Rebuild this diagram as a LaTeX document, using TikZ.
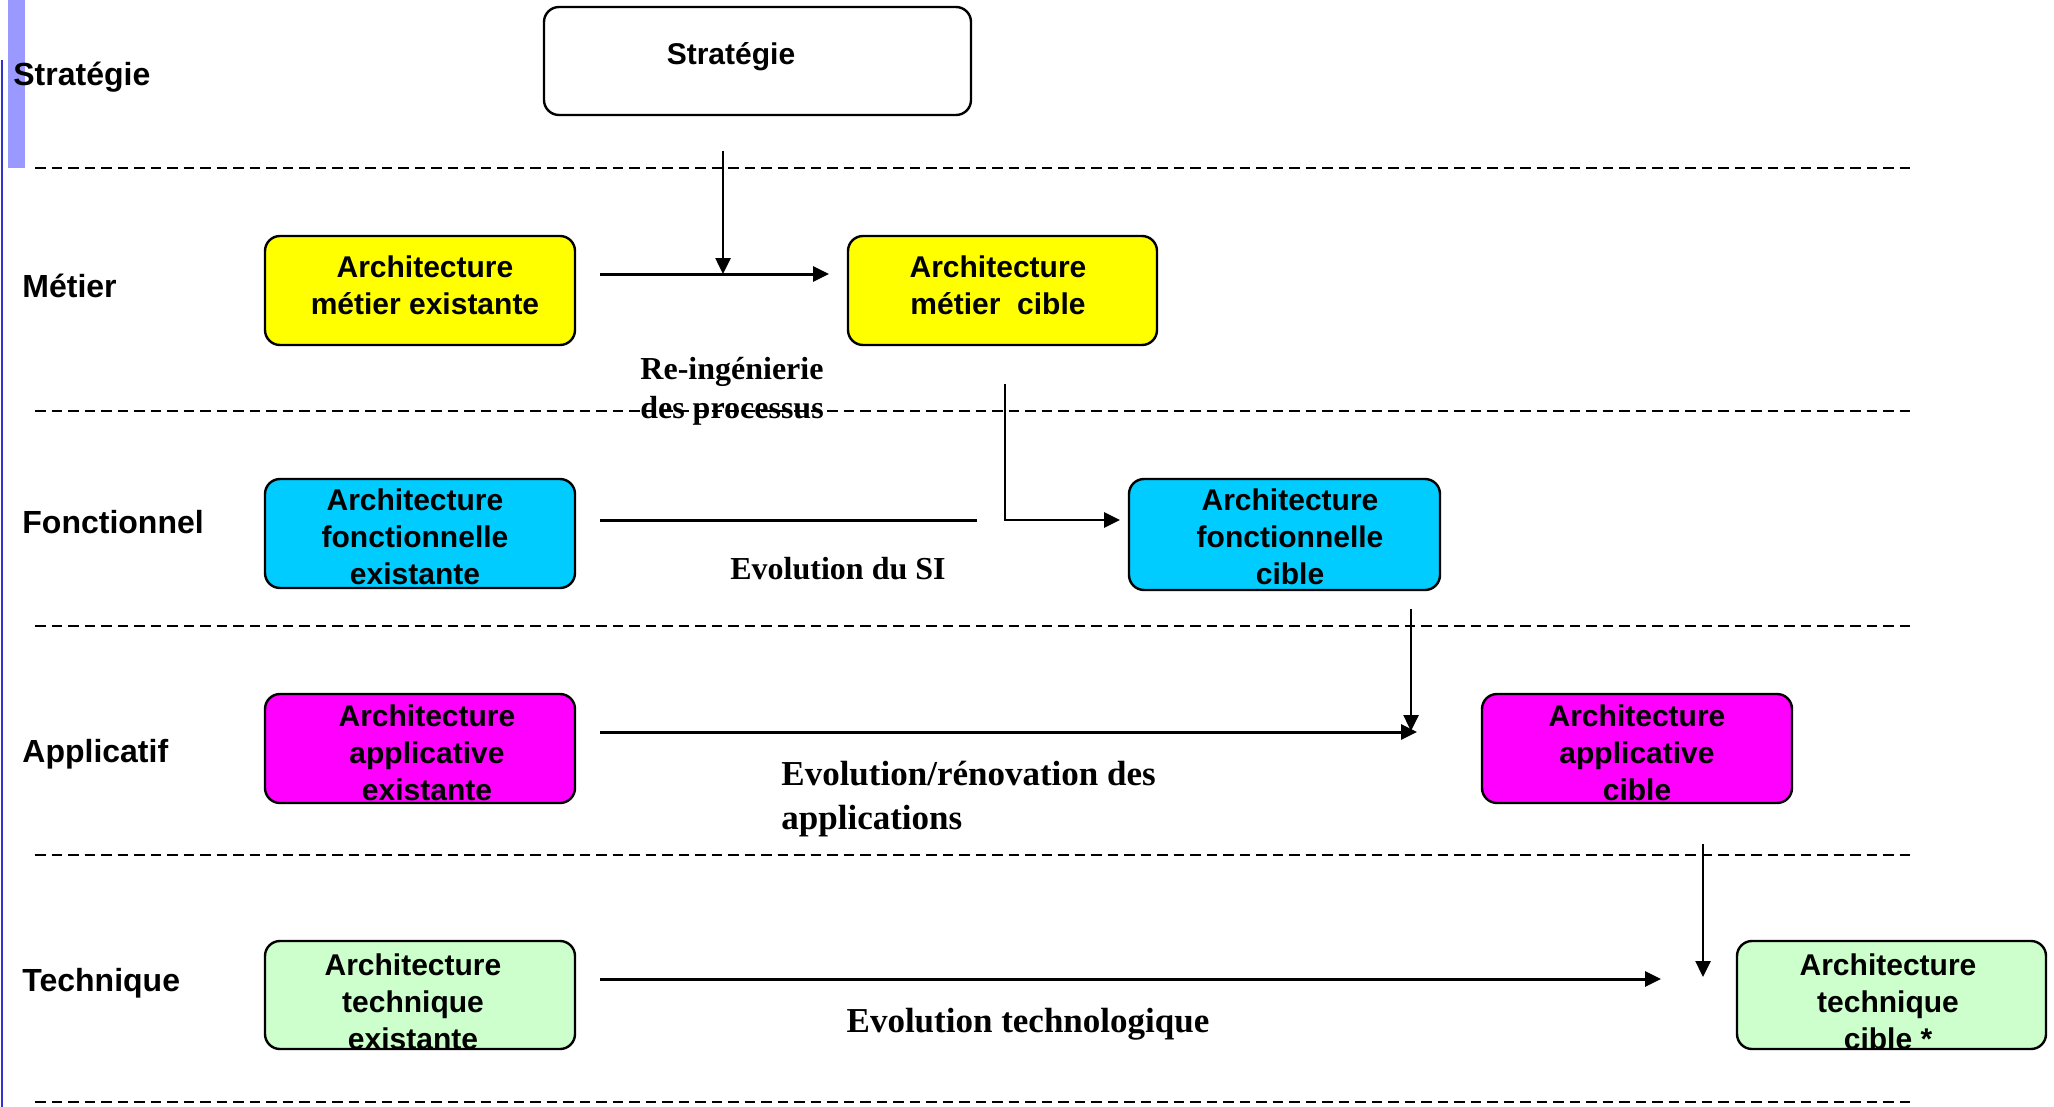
\documentclass[tikz,border=0pt]{standalone}
\usepackage{fontspec}
\setmainfont{Liberation Serif}
\setsansfont{Liberation Sans}
\usetikzlibrary{arrows.meta}
\definecolor{barcol}{HTML}{9999FF}
\definecolor{edgecol}{HTML}{3333CC}
\definecolor{cyanbox}{HTML}{00CCFF}
\definecolor{greenbox}{HTML}{CCFFCC}
\definecolor{yellowbox}{HTML}{FFFF00}
\definecolor{magentabox}{HTML}{FF00FF}
\begin{document}
\begin{tikzpicture}[x=0.5pt,y=-0.5pt,
 box/.style={draw=black, line width=1.2pt, rounded corners=7.5pt, inner sep=0pt},
 boxtxt/.style={font=\sffamily\bfseries\fontsize{15}{18.5}\selectfont, align=center, inner sep=0pt},
 rowlbl/.style={font=\sffamily\bfseries\fontsize{16}{19}\selectfont, anchor=west, inner sep=0pt},
 flowlbl/.style={font=\rmfamily\bfseries\fontsize{16}{19.5}\selectfont, align=center, inner sep=0pt},
 flowlblb/.style={font=\rmfamily\bfseries\fontsize{17.5}{21.6}\selectfont, inner sep=0pt},
 sep/.style={dash pattern=on 5.25pt off 3pt, line width=1.2pt},
 harr/.style={line width=1.5pt, -{Triangle[length=8pt,width=7.5pt]}},
 varr/.style={line width=1.3pt, -{Triangle[length=8pt,width=7.5pt]}},
]
\useasboundingbox (0,0) rectangle (2054,1107);
% left decoration
\fill[barcol] (8,0) rectangle (25,168);
\draw[edgecol, line width=1pt] (2,60) -- (2,1107);

% separators
\foreach \yy in {168,411,626,855,1102} \draw[sep] (35,\yy) -- (1913,\yy);

% row labels
\node[rowlbl] (lstrat) at (13,77) {Stratégie};
\node[rowlbl] (lmet) at (22,286) {Métier};
\node[rowlbl] (lfon) at (22,522) {Fonctionnel};
\node[rowlbl] (lapp) at (22,754) {Applicatif};
\node[rowlbl] (ltec) at (22,983) {Technique};

% boxes
\node[box, fill=white, minimum width=213.5pt, minimum height=54pt] (strat) at (757.5,61) {};
\node[boxtxt] (strattxt) at (731,57) {Stratégie};

\node[box, fill=yellowbox, minimum width=155pt, minimum height=54.5pt] (me) at (420,290.5) {};
\node[boxtxt] (metxt) at (425,285) {Architecture\\métier existante};
\node[box, fill=yellowbox, minimum width=154.5pt, minimum height=54.5pt] (mc) at (1002.5,290.5) {};
\node[boxtxt] (mctxt) at (998,285) {Architecture\\métier~ cible};

\node[box, fill=cyanbox, minimum width=155pt, minimum height=54.5pt] (fe) at (420,533.5) {};
\node[boxtxt] (fetxt) at (415,537) {Architecture\\fonctionnelle\\existante};
\node[box, fill=cyanbox, minimum width=155.5pt, minimum height=55.5pt] (fc) at (1284.5,534.5) {};
\node[boxtxt] (fctxt) at (1290,537) {Architecture\\fonctionnelle\\cible};

\node[box, fill=magentabox, minimum width=155pt, minimum height=54.5pt] (ae) at (420,748.5) {};
\node[boxtxt] (aetxt) at (427,753) {Architecture\\applicative\\existante};
\node[box, fill=magentabox, minimum width=155pt, minimum height=54.5pt] (ac) at (1637,748.5) {};
\node[boxtxt] (actxt) at (1637,753) {Architecture\\applicative\\cible};

\node[box, fill=greenbox, minimum width=155pt, minimum height=54pt] (te) at (420,995) {};
\node[boxtxt] (tetxt) at (413,1002) {Architecture\\technique\\existante};
\node[box, fill=greenbox, minimum width=154.5pt, minimum height=54pt] (tc) at (1891.5,995) {};
\node[boxtxt] (tctxt) at (1888,1002) {Architecture\\technique\\cible *};

% connector coordinates
\coordinate (s0) at (723,151);
\coordinate (s1) at (723,274);
\coordinate (m0) at (600,274);
\coordinate (m1) at (829,274);
\coordinate (d0) at (1005,384);
\coordinate (d1) at (1120,520);
\coordinate (f0) at (600,520);
\coordinate (f1) at (977,520);
\coordinate (a0) at (1411,609);
\coordinate (a1) at (1411,731);
\coordinate (h0) at (600,732);
\coordinate (h1) at (1417,732);
\coordinate (t0) at (1703,844);
\coordinate (t1) at (1703,977);
\coordinate (k0) at (600,979);
\coordinate (k1) at (1661,979);

\draw[harr] (m0) -- (m1);
\draw[varr] (s0) -- (s1);
\draw[varr] (d0) |- (d1);
\draw[line width=1.5pt] (f0) -- (f1);
\draw[harr] (h0) -- (h1);
\draw[varr] (a0) -- (a1);
\draw[harr] (k0) -- (k1);
\draw[varr] (t0) -- (t1);

% flow labels
\node[flowlbl] (lre) at (732,391) {Re-ingénierie\\des processus};
\node[flowlbl] (lsi) at (838,569) {Evolution du SI};
\node[flowlblb, align=left, anchor=west] (lren) at (781,799) {Evolution/rénovation des\\applications};
\node[flowlblb] (ltech) at (1028,1024) {Evolution technologique};
\end{tikzpicture}
\end{document}
